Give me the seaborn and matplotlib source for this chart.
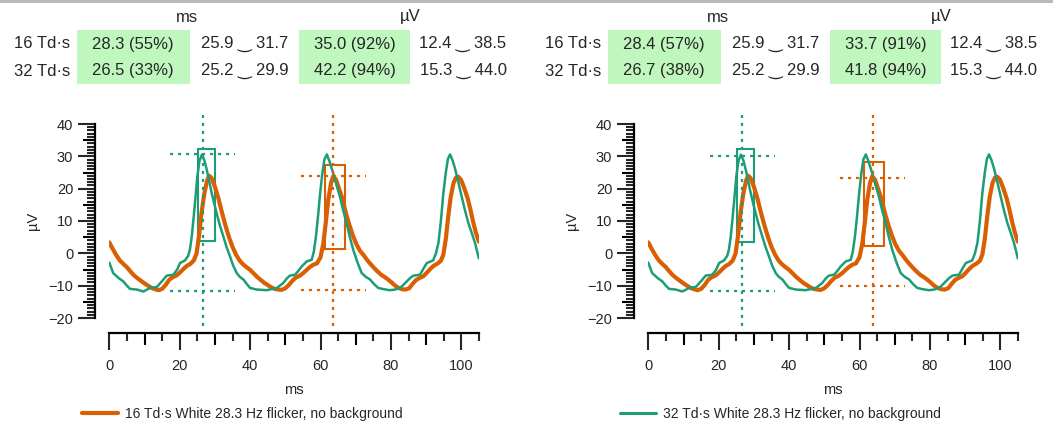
import numpy as np
import matplotlib
matplotlib.use('Agg')
import matplotlib.pyplot as plt
import matplotlib.markers as mmarkers
from matplotlib.patches import Rectangle
from matplotlib.lines import Line2D
from matplotlib.ticker import MultipleLocator, FixedLocator
from matplotlib.transforms import blended_transform_factory, ScaledTranslation
import seaborn as sns

# ---- traces (same in both panels) ----
t_16 = [0, 1, 2, 3, 4, 5, 6, 7, 8, 9, 10, 11, 12, 13, 14, 15, 16, 17, 18, 19, 20,
        21, 22, 23, 24, 24.8, 25.5, 26.2, 27.0, 27.8, 28.4, 29.1, 30, 31, 32, 33, 34,
        35, 36, 37, 38, 39, 40, 41, 42, 43, 44, 45, 46, 47, 48, 49, 50, 51, 52, 53,
        54, 55, 56, 57, 58, 59, 60, 60.8, 61.5, 62.2, 63.0, 63.6, 64.4, 65.2, 66.2,
        67.2, 68.2, 69.2, 70.2, 71.2, 72.2, 73.2, 74.2, 75.2, 76.2, 77.2, 78.2, 79.2,
        80.2, 81.2, 82.2, 83.2, 84.2, 85.2, 86.2, 87.2, 88.2, 89.2, 90.2, 91.2, 92.2,
        93.2, 94.2, 94.9, 95.6, 96.3, 97.0, 97.8, 98.5, 99.1, 99.9, 100.8, 101.8,
        102.6, 103.4, 104.2, 105]
uv_16 = [3.4, 1.3, -0.6, -2.2, -3.3, -4.3, -5.6, -6.8, -7.7, -8.5, -9.3, -10.0, -10.7,
         -11.1, -11.4, -11.0, -9.8, -8.2, -7.4, -6.9, -6.0, -4.9, -3.9, -3.3, -2.2, 0.0,
         5.5, 12.5, 18.5, 22.6, 24.0, 23.2, 20.6, 17.0, 12.6, 8.6, 5.0, 2.0, -0.4, -2.2,
         -3.4, -4.3, -5.1, -6.2, -7.3, -8.2, -9.1, -9.8, -10.5, -11.0, -11.2, -11.3,
         -10.8, -9.8, -8.5, -7.5, -7.0, -6.2, -5.2, -4.2, -3.5, -3.1, -1.2, 3.0, 9.5,
         16.5, 21.8, 23.8, 22.8, 20.2, 17.0, 12.5, 8.8, 5.5, 2.8, 0.8, -0.5, -2.0, -3.3,
         -4.5, -5.6, -6.6, -7.3, -8.1, -9.0, -10.0, -10.7, -11.1, -11.2, -10.8, -9.4,
         -8.2, -7.6, -7.1, -6.0, -4.8, -3.8, -3.2, -2.3, -0.4, 4.5, 11.5, 17.5, 21.8,
         23.4, 23.7, 22.8, 20.3, 17.0, 13.5, 9.5, 6.2, 3.6]

t_32 = [0, 1.1, 2.6, 4.0, 5.0, 5.9, 7.8, 9.7, 11.6, 13.5, 14.9, 16.3, 18.2, 19.3, 20.1,
        21.5, 22.4, 22.9, 23.4, 23.9, 24.5, 25.0, 25.6, 26.3, 27.0, 27.7, 28.4, 29.1,
        29.8, 30.5, 31.4, 32.4, 33.3, 34.3, 35.2, 36.2, 37.1, 38.1, 39.0, 40.0, 41.9,
        44.7, 47.6, 49.4, 50.4, 51.3, 52.8, 53.8, 54.7, 56.1, 57.5, 58.1, 58.7, 59.3,
        59.9, 60.5, 61.1, 61.8, 62.6, 63.6, 64.5, 65.5, 66.4, 67.4, 68.3, 69.3, 70.5,
        71.7, 72.9, 74.1, 75.2, 76.4, 78.0, 79.7, 81.2, 82.6, 83.5, 84.5, 85.5, 86.4,
        88.3, 89.2, 90.2, 92.0, 92.8, 93.5, 94.2, 94.9, 95.6, 96.2, 96.8, 97.5, 98.2,
        99.2, 100.1, 101.0, 102.0, 103.0, 103.9, 105]
uv_32 = [-2.9, -6.1, -7.6, -8.7, -10.0, -11.0, -11.2, -11.8, -10.7, -10.4, -8.7, -6.9,
         -6.6, -5.0, -3.0, -2.2, -0.8, 1.1, 5.0, 10.4, 17.5, 23.7, 28.5, 30.5, 28.8, 25.8,
         22.2, 18.6, 15.4, 12.4, 8.7, 5.2, 2.0, -1.0, -3.8, -6.1, -7.3, -8.1, -9.4, -10.7,
         -11.2, -11.4, -10.7, -9.2, -7.8, -6.9, -6.6, -5.3, -4.0, -2.5, -2.0, 0.5, 5.2,
         11.5, 18.6, 24.5, 29.0, 30.6, 28.3, 24.8, 21.3, 17.6, 13.5, 9.4, 5.2, 1.1, -2.8,
         -6.1, -7.3, -8.1, -9.5, -10.7, -11.1, -11.4, -11.2, -10.7, -9.8, -8.7, -7.6,
         -6.9, -6.6, -4.8, -3.0, -2.2, 0.0, 3.2, 10.0, 18.6, 25.0, 29.2, 30.6, 28.8, 26.3,
         21.8, 17.6, 13.5, 9.4, 6.2, 3.2, -1.6]

# ---- table text ----
row_labels = ['16 Td·s', '32 Td·s']
lat_text = [['28.3 (55%)', '26.5 (33%)'], ['28.4 (57%)', '26.7 (38%)']]
lat_ci_text = [['25.9 \u203f 31.7', '25.2 \u203f 29.9'], ['25.9 \u203f 31.7', '25.2 \u203f 29.9']]
amp_text = [['35.0 (92%)', '42.2 (94%)'], ['33.7 (91%)', '41.8 (94%)']]
amp_ci_text = [['12.4 \u203f 38.5', '15.3 \u203f 44.0'], ['12.4 \u203f 38.5', '15.3 \u203f 44.0']]

# ---- peak markers [orange, green] per panel ----
peak_ms = [[63.6, 26.5], [63.7, 26.7]]
peak_uv = [[23.9, 30.6], [23.4, 30.1]]
trough_uv = [[-11.2, -11.6], [-10.2, -11.7]]
box_ms = [[(61.2, 67.0), (25.2, 29.9)], [(61.2, 67.0), (25.2, 29.9)]]
box_uv = [[(1.2, 27.3), (3.7, 32.4)], [(2.2, 28.3), (3.6, 32.3)]]

legend_text = ['16 Td·s White 28.3 Hz flicker, no background',
               '32 Td·s White 28.3 Hz flicker, no background']

ORANGE = '#d95f02'
GREEN = '#1b9e77'
CELL = '#bff7bf'

sns.set_style('white')
plt.rcParams['font.family'] = ['Liberation Sans', 'DejaVu Sans']

W, H = 1053, 430
fig = plt.figure(figsize=(W / 100, H / 100), dpi=100)


def fx(px):
    return px / W


def fy(py):
    return 1 - py / H


# thin grey strip at the top
fig.add_artist(Rectangle((0, fy(3)), 1, 3 / H, transform=fig.transFigure,
                         color='#b9b9b9', lw=0))

ax_left = [109.3, 648.3]
tab_off = [0, 531]
OFF = 10.5  # spine offset (pt)
colors = [ORANGE, GREEN]

for i in range(2):
    ax = fig.add_axes([fx(ax_left[i]), fy(318), 369.6 / W, 194 / H])
    sns.lineplot(x=t_16, y=uv_16, ax=ax, color=ORANGE, lw=3.0, sort=False, estimator=None)
    sns.lineplot(x=t_32, y=uv_32, ax=ax, color=GREEN, lw=1.8, sort=False, estimator=None)

    for k, c in enumerate(colors):
        x0 = peak_ms[i][k]
        ax.vlines(x0, -22.4, 42.8, color=c, lw=1.6, ls=(0, (1.4, 2.2)), clip_on=False)
        ax.hlines([peak_uv[i][k], trough_uv[i][k]], x0 - 9.2, x0 + 9.2, color=c, lw=1.6,
                  ls=(0, (1.4, 2.2)))
        b0, b1 = box_ms[i][k]
        v0, v1 = box_uv[i][k]
        ax.add_patch(Rectangle((b0, v0), b1 - b0, v1 - v0, fill=False, ec=c, lw=1.5))

    ax.set_xlim(0, 105)
    ax.set_ylim(-20, 40)
    sns.despine(ax=ax)
    for s in ['left', 'bottom']:
        ax.spines[s].set_position(('outward', OFF))
        ax.spines[s].set_linewidth(1.6)
        ax.spines[s].set_color('black')

    ax.xaxis.set_major_locator(MultipleLocator(20))
    ax.xaxis.set_minor_locator(FixedLocator([v for v in range(5, 106, 5) if v % 10]))
    ax.yaxis.set_major_locator(MultipleLocator(10))
    ax.yaxis.set_minor_locator(FixedLocator([v for v in range(-20, 41) if v % 5]))
    ax.tick_params(axis='x', which='major', length=12, width=1.5, pad=7, labelsize=10.5,
                   direction='out', bottom=True)
    ax.tick_params(axis='y', which='major', length=12, width=1.5, pad=3.5, labelsize=10.5,
                   direction='out', left=True)
    ax.tick_params(which='minor', length=5.8, width=1.5, direction='out', bottom=True, left=True)

    # medium ticks at the 5s
    trx = blended_transform_factory(ax.transData, ax.transAxes) + \
        ScaledTranslation(0, -OFF / 72, fig.dpi_scale_trans)
    mx = [v for v in range(10, 106, 20)]
    ax.plot(mx, [0] * len(mx), ls='', marker=mmarkers.TICKDOWN, ms=8.6, mew=1.5,
            color='black', transform=trx, clip_on=False)
    tr_y = blended_transform_factory(ax.transAxes, ax.transData) + \
        ScaledTranslation(-OFF / 72, 0, fig.dpi_scale_trans)
    my = [-15, -5, 5, 15, 25, 35]
    ax.plot([0] * len(my), my, ls='', marker=mmarkers.TICKLEFT, ms=8.6, mew=1.5,
            color='black', transform=tr_y, clip_on=False)

    ax.set_xlabel('ms', fontsize=10.5)
    ax.set_ylabel('µV', fontsize=10.5)
    ax.xaxis.set_label_coords(0.5, -0.335)
    ax.yaxis.set_label_coords(-0.1875, 0.5)

    # legend
    c = colors[i]
    h = Line2D([], [], color=c, lw=3.0 if i == 0 else 2.2)
    fig.legend([h], [legend_text[i]], loc='center left',
               bbox_to_anchor=(fx([82, 620][i]), fy(414)), frameon=False, fontsize=10,
               handlelength=2.6, handletextpad=0.5, borderpad=0, borderaxespad=0)

    # summary table
    o = tab_off[i]
    fig.text(fx(187 + o), fy(17), 'ms', ha='center', va='center', fontsize=12)
    fig.text(fx(410 + o), fy(17), 'µV', ha='center', va='center', fontsize=12)
    fig.add_artist(Rectangle((fx(77 + o), fy(84)), 113 / W, 54 / H,
                             transform=fig.transFigure, color=CELL, lw=0))
    fig.add_artist(Rectangle((fx(299 + o), fy(84)), 111 / W, 54 / H,
                             transform=fig.transFigure, color=CELL, lw=0))
    for r, yy in enumerate([44, 71]):
        fig.text(fx(42 + o), fy(yy), row_labels[r], ha='center', va='center', fontsize=12)
        fig.text(fx(133 + o), fy(yy), lat_text[i][r], ha='center', va='center', fontsize=12)
        fig.text(fx(245 + o), fy(yy), lat_ci_text[i][r], ha='center', va='center', fontsize=12)
        fig.text(fx(355 + o), fy(yy), amp_text[i][r], ha='center', va='center', fontsize=12)
        fig.text(fx(463 + o), fy(yy), amp_ci_text[i][r], ha='center', va='center', fontsize=12)

fig.savefig('out.png', dpi=100)
